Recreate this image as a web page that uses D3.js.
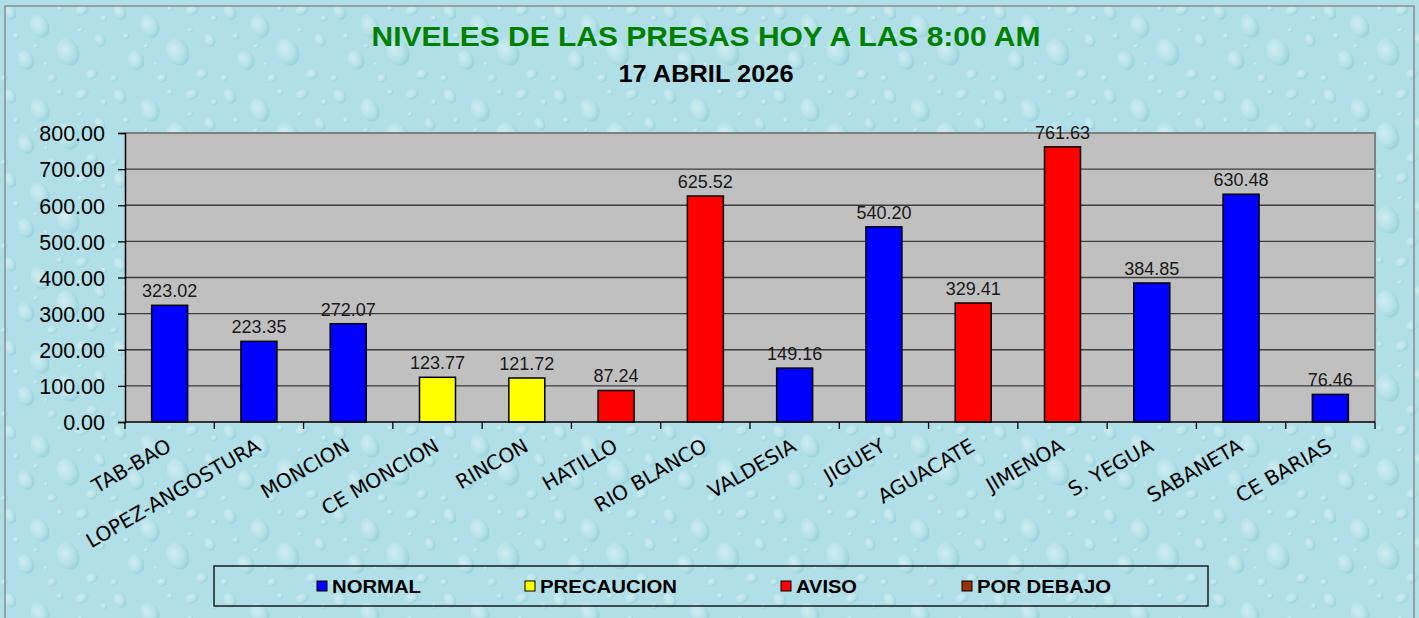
<!DOCTYPE html>
<html><head><meta charset="utf-8">
<script src="https://cdn.jsdelivr.net/npm/d3@7"></script>
<style>body{margin:0;padding:0;overflow:hidden;background:#fff}</style>
</head><body>
<svg id="chart" width="1419" height="618"></svg>
<script>
const categories = ["TAB-BAO","LOPEZ-ANGOSTURA","MONCION","CE MONCION","RINCON","HATILLO","RIO BLANCO","VALDESIA","JIGUEY","AGUACATE","JIMENOA","S. YEGUA","SABANETA","CE BARIAS"];
const values = [323.02,223.35,272.07,123.77,121.72,87.24,625.52,149.16,540.20,329.41,761.63,384.85,630.48,76.46];
const status = ["NORMAL","NORMAL","NORMAL","PRECAUCION","PRECAUCION","AVISO","AVISO","NORMAL","NORMAL","AVISO","AVISO","NORMAL","NORMAL","NORMAL"];
const legendLabels = ["NORMAL","PRECAUCION","AVISO","POR DEBAJO"];
const legendColors = ["#0000ff","#ffff00","#ff0000","#993300"];
const yTicks = [0,100,200,300,400,500,600,700,800];
const title = "NIVELES DE LAS PRESAS HOY A LAS 8:00 AM";
const subtitle = "17 ABRIL 2026";

const svg = d3.select("#chart");
const defs = svg.append("defs");

// water-drop background texture
const pat = defs.append("pattern").attr("id","drops").attr("patternUnits","userSpaceOnUse")
  .attr("width",110).attr("height",84);
pat.append("rect").attr("width",110).attr("height",84).attr("fill","#b0dfe7");
const drops = [[10,12,6,8],[40,26,9,12],[82,10,7,5],[26,60,8,10],[68,52,11,14],[100,40,5,7],[52,78,5,4],[92,74,6,5],[16,36,3,3],[60,8,3,3],[104,18,3,3],[4,78,4,3],[36,46,3,2],[80,30,3,2],[46,64,2,2]];
const dg = defs.append("radialGradient").attr("id","dropGrad").attr("cx","40%").attr("cy","35%").attr("r","65%");
dg.append("stop").attr("offset","0%").attr("stop-color","#e2f6f8");
dg.append("stop").attr("offset","60%").attr("stop-color","#bde6ec");
dg.append("stop").attr("offset","100%").attr("stop-color","#8ccbd6");
drops.forEach(d=>{
  pat.append("ellipse").attr("cx",d[0]).attr("cy",d[1]).attr("rx",d[2]).attr("ry",d[3])
    .attr("fill","url(#dropGrad)").attr("opacity",0.6).attr("transform",`rotate(-25 ${d[0]} ${d[1]})`);
});
svg.append("rect").attr("width",1419).attr("height",618).attr("fill","url(#drops)");
svg.append("rect").attr("x",5).attr("y",6).attr("width",1409).attr("height",620)
  .attr("fill","none").attr("stroke","#8c8c8c").attr("stroke-width",1.5);

// titles
svg.append("text").attr("x",706).attr("y",46).attr("text-anchor","middle")
  .attr("font-family","'Liberation Sans', Arial, sans-serif").attr("font-weight","bold")
  .attr("font-size",28).attr("fill","#008000")
  .attr("textLength",669).attr("lengthAdjust","spacingAndGlyphs").text(title);
svg.append("text").attr("x",706).attr("y",82).attr("text-anchor","middle")
  .attr("font-family","'Liberation Sans', Arial, sans-serif").attr("font-weight","bold")
  .attr("font-size",23).attr("fill","#000")
  .attr("textLength",175).attr("lengthAdjust","spacingAndGlyphs").text(subtitle);

// plot
const L=125, R=1375, T=133, B=422;
const xb = d3.scaleBand().domain(categories).range([L,R]);
const y = d3.scaleLinear().domain([0,800]).range([B,T]);
const color = d3.scaleOrdinal().domain(legendLabels).range(legendColors);

svg.append("rect").attr("x",L).attr("y",T).attr("width",R-L).attr("height",B-T).attr("fill","#c0c0c0");
svg.append("g").selectAll("line").data(yTicks.filter(t=>t>0 && t<800)).join("line")
  .attr("x1",L).attr("x2",R).attr("y1",d=>y(d)).attr("y2",d=>y(d))
  .attr("stroke","#3c3c3c").attr("stroke-width",1.3);
svg.append("path").attr("d",`M${L},${T}H${R}V${B}`).attr("fill","none").attr("stroke","#808080").attr("stroke-width",2);

// bars
svg.append("g").selectAll("rect").data(categories).join("rect")
  .attr("x",d=>xb(d)+xb.bandwidth()/2-18).attr("width",36)
  .attr("y",(d,i)=>y(values[i])).attr("height",(d,i)=>B-y(values[i]))
  .attr("fill",(d,i)=>color(status[i])).attr("stroke","#000").attr("stroke-width",1.5);

// data labels
svg.append("g").selectAll("text").data(categories).join("text")
  .attr("x",d=>xb(d)+xb.bandwidth()/2).attr("y",(d,i)=>y(values[i])-8)
  .attr("text-anchor","middle").attr("font-family","'Liberation Sans', Arial, sans-serif")
  .attr("font-size",18).attr("fill","#1a1a1a").text((d,i)=>values[i].toFixed(2));

// y axis
const yAxis = d3.axisLeft(y).tickValues(yTicks).tickFormat(d=>d.toFixed(2)).tickSize(7).tickPadding(13);
const gy = svg.append("g").attr("transform",`translate(${L},0)`).call(yAxis);
gy.select(".domain").attr("stroke","#000").attr("stroke-width",1.5);
gy.selectAll(".tick line").attr("stroke","#000").attr("stroke-width",1.3);
gy.selectAll(".tick text").attr("font-family","'Liberation Sans', Arial, sans-serif").attr("font-size",21.5).attr("fill","#000").attr("dy","0.36em");

// x axis
svg.append("line").attr("x1",L).attr("x2",R).attr("y1",B).attr("y2",B).attr("stroke","#000").attr("stroke-width",1.5);
const bounds = categories.map(c=>xb(c)).concat([R]);
svg.append("g").selectAll("line").data(bounds).join("line")
  .attr("x1",d=>d).attr("x2",d=>d).attr("y1",B).attr("y2",B+7).attr("stroke","#000").attr("stroke-width",1.3);
svg.append("g").selectAll("text").data(categories).join("text")
  .attr("transform",d=>`translate(${xb(d)+xb.bandwidth()/2+3},450) rotate(-30)`)
  .attr("text-anchor","end").attr("font-family","'DejaVu Sans', sans-serif")
  .attr("font-size",20).attr("fill","#000").text(d=>d);

// legend
svg.append("rect").attr("x",214).attr("y",566).attr("width",994).attr("height",40)
  .attr("fill","none").attr("stroke","#000").attr("stroke-width",1.3);
const legX = [317,525,781,962];
const legW = [89,137,61,134];
const lg = svg.append("g").selectAll("g").data(legendLabels).join("g")
  .attr("transform",(d,i)=>`translate(${legX[i]},586)`);
lg.append("rect").attr("x",0).attr("y",-5).attr("width",10).attr("height",10)
  .attr("fill",(d,i)=>legendColors[i]).attr("stroke","#000").attr("stroke-width",1);
lg.append("text").attr("x",15).attr("y",6.5).attr("font-family","'Liberation Sans', Arial, sans-serif")
  .attr("font-weight","bold").attr("font-size",18).attr("fill","#000")
  .attr("textLength",(d,i)=>legW[i]).attr("lengthAdjust","spacingAndGlyphs").text(d=>d);
</script>
</body></html>
